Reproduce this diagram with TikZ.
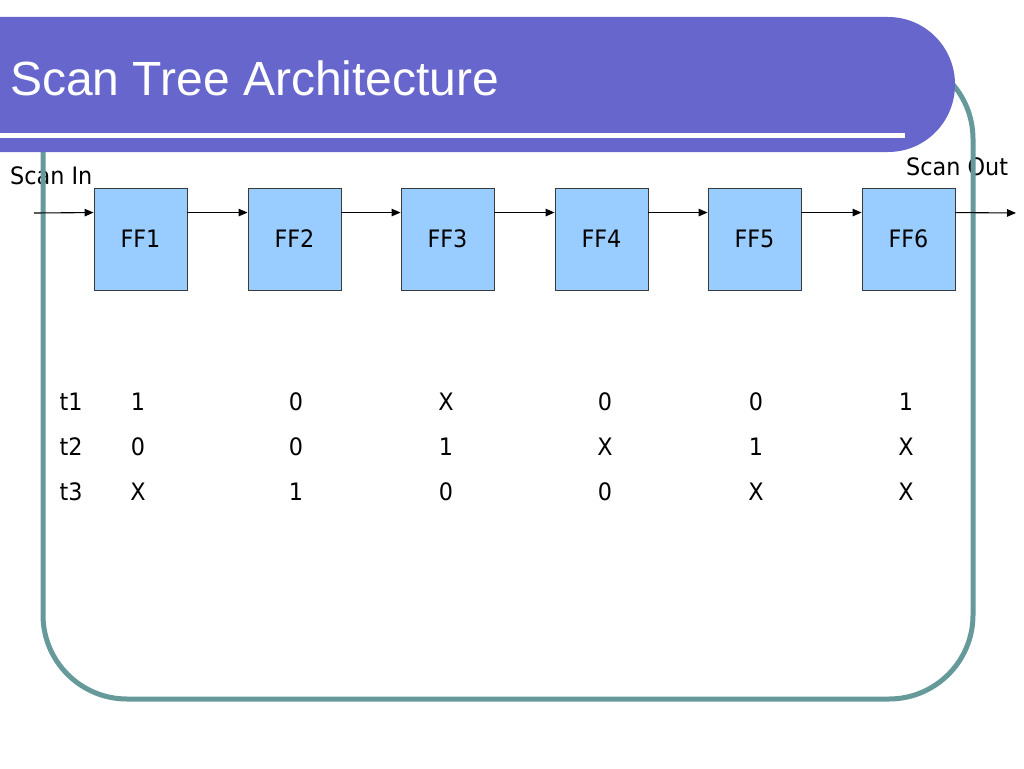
\documentclass[tikz,border=0pt]{standalone}
\usepackage{fontspec}
\setmainfont{DejaVu Sans}[FakeStretch=0.93]
\newfontfamily\titlefont{Liberation Sans}
\usetikzlibrary{arrows.meta}
\definecolor{framecol}{HTML}{669999}
\definecolor{barcol}{HTML}{6666CC}
\definecolor{ffcol}{HTML}{99CCFF}
\definecolor{ffborder}{HTML}{3A3A3A}
\tikzset{
  txt/.style={font=\fontsize{24}{28}\selectfont, text height=17.5pt, text depth=0pt},
  ffbox/.style={txt, draw=ffborder, line width=0.9pt, fill=ffcol, minimum width=93pt, minimum height=102pt, inner sep=0pt},
  sig/.style={line width=1.1pt, -{Triangle[length=9pt,width=7.5pt]}},
  lbl/.style={inner sep=0pt, font=\fontsize{24}{28}\selectfont},
  cell/.style={txt, inner sep=0pt},
}
\begin{document}
\begin{tikzpicture}[x=1pt,y=-1pt]
\useasboundingbox (0,0) rectangle (1024,768);
% labels under frame
\node[lbl, anchor=base west] (scanin) at (10,184) {Scan In};
\node[lbl, anchor=base west] (scanout) at (906,175) {Scan Out};
% frame
\draw[framecol, line width=5pt, rounded corners=84pt] (43,55) rectangle (973,699);
% title bar
\fill[barcol] (0,17) -- (888,17) .. controls (925,17) and (955,47) .. (955,84.5)
  .. controls (955,122) and (925,152) .. (888,152) -- (0,152) -- cycle;
\draw[white, line width=5pt] (0,135.5) -- (905,135.5);
\node[anchor=base west, inner sep=0pt, text=white, font=\titlefont\fontsize{48}{56}\selectfont] (title) at (10,95) {Scan Tree Architecture};
% flip-flops
\node[ffbox] (ff1) at (140.5,239) {FF1};
\node[ffbox] (ff2) at (294.5,239) {FF2};
\node[ffbox] (ff3) at (447.5,239) {FF3};
\node[ffbox] (ff4) at (601.5,239) {FF4};
\node[ffbox] (ff5) at (754.5,239) {FF5};
\node[ffbox] (ff6) at (908.5,239) {FF6};
\coordinate (in) at (34,213);
\coordinate (out) at (1016,213);
\draw[sig] (in) -- ([yshift=-25pt]ff1.north west);
\draw[sig] ([yshift=-25pt]ff1.north east) -- ([yshift=-25pt]ff2.north west);
\draw[sig] ([yshift=-25pt]ff2.north east) -- ([yshift=-25pt]ff3.north west);
\draw[sig] ([yshift=-25pt]ff3.north east) -- ([yshift=-25pt]ff4.north west);
\draw[sig] ([yshift=-25pt]ff4.north east) -- ([yshift=-25pt]ff5.north west);
\draw[sig] ([yshift=-25pt]ff5.north east) -- ([yshift=-25pt]ff6.north west);
\draw[sig] ([yshift=-25pt]ff6.north east) -- (out);
% table
\foreach \r/\y/\a/\b/\c/\d/\e/\f in {1/402/1/0/X/0/0/1, 2/447/0/0/1/X/1/X, 3/492/X/1/0/0/X/X}{
  \node[cell] (t\r) at (71,\y) {t\r};
  \node[cell] (c\r a) at (138,\y) {\a};
  \node[cell] (c\r b) at (296,\y) {\b};
  \node[cell] (c\r c) at (446,\y) {\c};
  \node[cell] (c\r d) at (605,\y) {\d};
  \node[cell] (c\r e) at (756,\y) {\e};
  \node[cell] (c\r f) at (906,\y) {\f};
}
\end{tikzpicture}
\end{document}
